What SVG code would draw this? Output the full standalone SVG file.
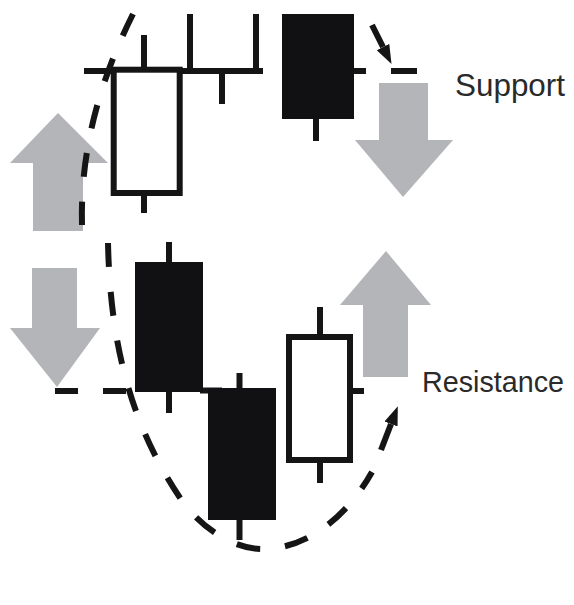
<svg xmlns="http://www.w3.org/2000/svg" width="574" height="605" viewBox="0 0 574 605">
<style>
.hollow{fill:#fff;stroke:#151515;stroke-width:6}
.filled{fill:#111113;stroke:none}
.wick{stroke:#151515;stroke-width:6;fill:none}
.trend{fill:#b3b5b8;stroke:none}
.level{stroke:#151515;stroke-width:6;fill:none}
.dashcurve{stroke:#151515;stroke-width:6;fill:none;stroke-dasharray:24 25}
.shaft{stroke:#151515;stroke-width:6;fill:none}
.label{font-family:"Liberation Sans",Arial,Helvetica,sans-serif;fill:#2a2a2a}
</style>
<defs>
<marker id="head" markerUnits="userSpaceOnUse" markerWidth="20" markerHeight="16" viewBox="0 -8 20 16" refX="0" refY="0" orient="auto">
<path d="M0,-7 L19,0 L0,7 Z" fill="#151515"/>
</marker>
</defs>
<rect width="574" height="605" fill="#fff"/>
<g id="connectors">
<g id="support-line">
<line class="level" x1="84" y1="71" x2="263" y2="71"/>
<line class="level" x1="354" y1="71" x2="366" y2="71"/>
<line class="level" x1="391" y1="71" x2="417" y2="71"/>
</g>
<g id="resistance-line">
<line class="level" x1="55" y1="391" x2="78" y2="391"/>
<line class="level" x1="103" y1="391" x2="126" y2="391"/>
<line class="level" x1="200" y1="390.5" x2="222" y2="390.5"/>
<line class="level" x1="350" y1="391" x2="364" y2="391"/>
</g>
</g>
<g id="arrow-up-left"><polygon class="trend" points="58,113 108,163 83,163 83,231 33,231 33,163 10,163"/></g>
<g id="arrow-down-left"><polygon class="trend" points="32,268 77,268 77,328 100,328 57,387 10,328 32,328"/></g>
<g id="arrow-down-right"><polygon class="trend" points="379,83 428,83 428,140 453,140 403,197 355,140 379,140"/></g>
<g id="arrow-up-right"><polygon class="trend" points="386,251 431,305 408,305 408,377 363,377 363,305 340,305"/></g>
<g id="candle-1">
<line class="wick" x1="144" y1="35" x2="144" y2="70"/>
<line class="wick" x1="144" y1="193" x2="144" y2="213"/>
<rect class="hollow" x="113.7" y="69.7" width="66" height="123.3"/>
</g>
<g id="candle-2">
<line class="wick" x1="222" y1="71" x2="222" y2="104"/>
<path class="hollow" d="M190,14 V71 H256 V14"/>
</g>
<g id="candle-3">
<line class="wick" x1="316" y1="110" x2="316" y2="141"/>
<rect class="filled" x="282" y="14" width="72" height="105"/>
</g>
<g id="candle-4">
<line class="wick" x1="169" y1="242" x2="169" y2="413"/>
<rect class="filled" x="135" y="262" width="68" height="130"/>
</g>
<g id="candle-5">
<line class="wick" x1="239.5" y1="373" x2="239.5" y2="540"/>
<rect class="filled" x="208" y="388" width="68" height="132"/>
</g>
<g id="candle-6">
<line class="wick" x1="320" y1="307" x2="320" y2="337"/>
<line class="wick" x1="320" y1="460" x2="320" y2="483"/>
<rect class="hollow" x="289" y="337" width="61" height="123"/>
</g>
<g id="curves">
<path class="dashcurve" d="M133,14 C100,80 80,150 82,225"/>
<path class="dashcurve" d="M108,243 C110,330 125,420 185,505 C205,530 235,550 265,549 C305,548 345,520 372,472"/>
<line class="shaft" x1="372" y1="25" x2="383" y2="47" marker-end="url(#head)"/>
<line class="shaft" x1="381" y1="450" x2="391" y2="424" marker-end="url(#head)"/>
</g>
<g id="label-support"><text class="label" x="455" y="96" font-size="32" textLength="110" lengthAdjust="spacingAndGlyphs">Support</text></g>
<g id="label-resistance"><text class="label" x="422" y="392" font-size="30" textLength="142" lengthAdjust="spacingAndGlyphs">Resistance</text></g>
</svg>
